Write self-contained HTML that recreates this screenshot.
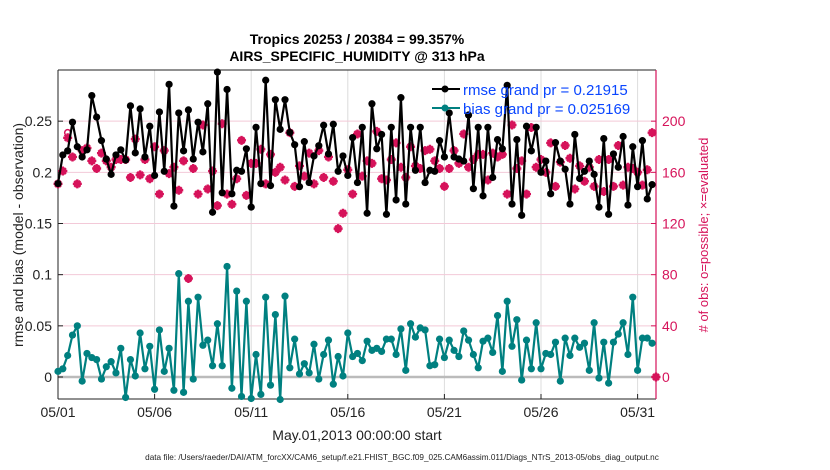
<!DOCTYPE html>
<html><head><meta charset="utf-8"><style>
html,body{margin:0;padding:0;background:#fff;}
svg{display:block;font-family:"Liberation Sans",sans-serif;}
</style></head><body>
<svg id="chart" width="830" height="470" viewBox="0 0 830 470">
<text x="357" y="44" text-anchor="middle" font-size="14" font-weight="bold">Tropics 20253 / 20384 = 99.357%</text>
<text x="357" y="61" text-anchor="middle" font-size="14" font-weight="bold">AIRS_SPECIFIC_HUMIDITY @ 313 hPa</text>
<g id="grid"></g>
<g id="axes"></g>
<g id="series"></g>
<g>
<g>
<line x1="432" y1="89" x2="460" y2="89" stroke="#000" stroke-width="2"/><circle cx="445" cy="89" r="3.5" fill="#000"/>
<text x="463" y="95" font-size="15" fill="#0a46ff">rmse grand pr = 0.21915</text></g>
<g>
<line x1="432" y1="108" x2="460" y2="108" stroke="#008080" stroke-width="2"/><circle cx="445" cy="108" r="3.5" fill="#008080"/>
<text x="463" y="114" font-size="15" fill="#0a46ff">bias grand pr = 0.025169</text></g>
</g>
<text x="357" y="440" text-anchor="middle" font-size="14" fill="#222">May.01,2013 00:00:00 start</text>
<text transform="translate(23,235) rotate(-90)" text-anchor="middle" font-size="14" fill="#222">rmse and bias (model - observation)</text>
<text transform="translate(708,235) rotate(-90)" text-anchor="middle" font-size="13" fill="#d6135a"># of obs: o=possible; ×=evaluated</text>
<text x="402" y="460" text-anchor="middle" font-size="8.2" fill="#222">data file: /Users/raeder/DAI/ATM_forcXX/CAM6_setup/f.e21.FHIST_BGC.f09_025.CAM6assim.011/Diags_NTrS_2013-05/obs_diag_output.nc</text>
</svg>
<script>
const rmse=[0.189,0.217,0.221,0.249,0.225,0.215,0.222,0.275,0.254,0.231,0.213,0.198,0.217,0.222,0.212,0.265,0.219,0.262,0.215,0.245,0.197,0.259,0.201,0.286,0.167,0.258,0.221,0.261,0.213,0.249,0.220,0.267,0.161,0.298,0.180,0.281,0.179,0.202,0.201,0.223,0.166,0.244,0.189,0.290,0.187,0.271,0.242,0.271,0.239,0.227,0.186,0.230,0.190,0.216,0.226,0.246,0.218,0.247,0.201,0.216,0.197,0.234,0.190,0.244,0.160,0.267,0.223,0.237,0.159,0.244,0.173,0.273,0.169,0.244,0.202,0.244,0.190,0.202,0.201,0.231,0.215,0.258,0.215,0.213,0.211,0.256,0.184,0.244,0.177,0.244,0.195,0.232,0.223,0.285,0.169,0.232,0.158,0.245,0.221,0.244,0.200,0.211,0.179,0.229,0.211,0.203,0.169,0.237,0.194,0.201,0.211,0.198,0.166,0.233,0.159,0.218,0.205,0.235,0.168,0.225,0.186,0.231,0.174,0.188,null];
const bias=[0.0055,0.008,0.021,0.041,0.050,-0.004,0.023,0.019,0.017,-0.002,0.010,0.015,0.004,0.028,-0.020,0.017,0.001,0.043,0.008,0.030,-0.012,0.046,0.0055,0.028,-0.013,0.101,-0.015,0.074,-0.002,0.078,0.031,0.036,0.011,0.052,0.011,0.108,-0.011,0.084,-0.019,0.074,-0.021,0.022,-0.017,0.078,-0.008,0.061,-0.022,0.079,0.009,0.037,0.003,0.013,0.004,0.032,-0.002,0.022,0.036,-0.007,0.020,0.001,0.043,0.020,0.023,0.016,0.035,0.026,0.028,0.025,0.037,0.037,0.022,0.047,0.0065,0.052,0.039,0.048,0.046,0.011,0.012,0.037,0.019,0.036,0.026,0.020,0.045,0.036,0.022,0.009,0.035,0.038,0.024,0.060,0.0055,0.074,0.030,0.056,-0.003,0.036,0.008,0.053,0.008,0.023,0.022,0.034,-0.004,0.038,0.021,0.038,0.029,0.033,0.0065,0.053,-0.001,0.034,-0.006,0.034,0.042,0.053,0.022,0.078,0.0065,0.038,0.038,0.033,null];
const possible=[151,161,191,172,151,177,179,169,163,175,169,164,170,170,170,156,186,158,170,155,180,143,177,159,164,146,169,77,163,143,197,147,161,134,198,143,135,155,185,142,167,167,178,151,174,160,164,154,191,149,165,157,175,151,177,156,172,153,116,128,162,143,190,157,169,167,192,155,154,170,183,164,156,180,165,163,177,178,169,163,149,163,177,167,190,164,170,174,174,154,175,172,174,143,197,163,169,143,195,164,170,160,183,149,168,181,171,147,165,153,164,149,170,145,170,149,181,150,164,163,160,150,162,191,0];
const evaluated=[151,161,187,172,151,177,179,169,163,175,169,164,170,170,170,156,186,158,170,155,180,143,177,159,164,146,169,77,163,143,197,147,161,134,198,143,135,155,185,142,167,167,178,151,174,160,164,154,191,149,165,157,175,151,177,156,172,153,116,128,162,143,190,157,169,167,192,155,154,170,183,164,156,180,165,163,177,178,169,163,149,163,177,167,190,164,170,174,174,154,175,172,174,143,197,163,169,143,195,164,170,160,183,149,168,181,171,147,165,153,164,149,170,145,170,149,181,150,164,163,160,150,162,191,0];
const xTickLabels=["05/01","05/06","05/11","05/16","05/21","05/26","05/31"];
const xTickDays=[0,5,10,15,20,25,30];
const yTickLabels=["0","0.05","0.1","0.15","0.2","0.25"];
const yTickValues=[0,0.05,0.1,0.15,0.2,0.25];
const y2TickValues=[0,40,80,120,160,200];

const NS="http://www.w3.org/2000/svg";
const L=58,R=656,T=70,B=399;
const yMin=-0.0215,yMax=0.3;
const pxPerDay=19.32;
function xDay(d){return L+d*pxPerDay;}
function xIdx(i){return Math.min(R,xDay(i/4));}
function yL(v){return B-(v-yMin)/(yMax-yMin)*(B-T);}
function yR(c){return yL(c*0.00125);}
function mk(tag,attrs,parent){const e=document.createElementNS(NS,tag);for(const k in attrs)e.setAttribute(k,attrs[k]);parent.appendChild(e);return e;}
const grid=document.getElementById('grid'),axes=document.getElementById('axes'),ser=document.getElementById('series');

mk('rect',{x:L,y:T,width:R-L,height:B-T,fill:'#fff'},grid);
xTickDays.forEach((d,i)=>{
  const x=xDay(d);
  const g=mk('line',{x1:x,y1:T,x2:x,y2:B,stroke:'#dcdcdc','stroke-width':1},grid);
  
  
  mk('line',{x1:x,y1:B,x2:x,y2:B-5,stroke:'#222','stroke-width':1},axes);
  const t=mk('text',{x:x,y:B+18,'text-anchor':'middle','font-size':14,fill:'#222'},axes);
  t.textContent=xTickLabels[i];
  
  
});
y2TickValues.forEach(c=>{
  const y=yR(c);
  if(c>0){const g=mk('line',{x1:L,y1:y,x2:R,y2:y,stroke:'#f3c9d8','stroke-width':1},grid);
  
  }
  mk('line',{x1:R,y1:y,x2:R-5,y2:y,stroke:'#d6135a','stroke-width':1},axes);
  const t=mk('text',{x:R+6,y:y+5,'font-size':14,fill:'#d6135a'},axes);
  t.textContent=c;
  
  
});
yTickValues.forEach((v,i)=>{
  const y=yL(v);
  mk('line',{x1:L,y1:y,x2:L+5,y2:y,stroke:'#222','stroke-width':1},axes);
  const t=mk('text',{x:L-6,y:y+5,'text-anchor':'end','font-size':14,fill:'#222'},axes);
  t.textContent=yTickLabels[i];
  
  
});
const zl=mk('line',{x1:L,y1:yL(0),x2:R,y2:yL(0),stroke:'#bbb','stroke-width':2.5},grid);


mk('line',{x1:L,y1:T,x2:R,y2:T,stroke:'#222','stroke-width':1},axes);
mk('line',{x1:L,y1:T,x2:L,y2:B,stroke:'#222','stroke-width':1},axes);
mk('line',{x1:L,y1:B,x2:R,y2:B,stroke:'#222','stroke-width':1},axes);
mk('line',{x1:R,y1:T,x2:R,y2:B,stroke:'#d6135a','stroke-width':1.2},axes);

function drawLine(arr,color,name){
  let d='';arr.forEach((v,i)=>{if(v===null)return;d+=(d?'L':'M')+xIdx(i).toFixed(1)+','+yL(v).toFixed(1);});
  const p=mk('path',{d:d,fill:'none',stroke:color,'stroke-width':2.2,'stroke-linejoin':'round'},ser);
  
  
  arr.forEach((v,i)=>{if(v===null)return;
    const c=mk('circle',{cx:xIdx(i),cy:yL(v),r:3.6,fill:color},ser);
    
    });
}
const mag='#d6135a';
evaluated.forEach((c,i)=>{
  const x=xIdx(i),y=yR(c);
  const s=mk('path',{d:`M${x-4.5},${y}L${x+4.5},${y}M${x},${y-4.5}L${x},${y+4.5}M${x-3},${y-3}L${x+3},${y+3}M${x-3},${y+3}L${x+3},${y-3}`,stroke:mag,'stroke-width':2.4,fill:'none'},ser);
  
  
});
possible.forEach((c,i)=>{
  const o=mk('circle',{cx:xIdx(i),cy:yR(c),r:3,fill:'none',stroke:mag,'stroke-width':1.5},ser);
  
  
});
drawLine(rmse,'#000','rmse');
drawLine(bias,'#008080','bias');
</script>
</body></html>
